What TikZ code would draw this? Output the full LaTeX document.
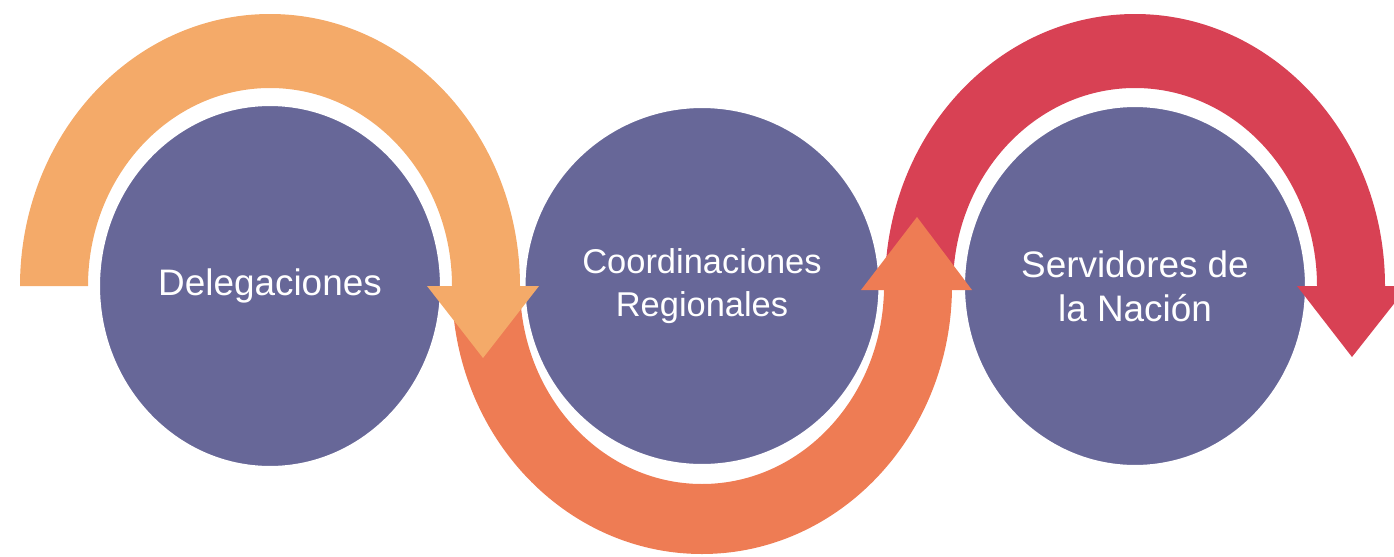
\documentclass[tikz,border=0pt]{standalone}
\usepackage{fontspec}
\setmainfont{Liberation Sans}
\usetikzlibrary{shapes.geometric}
\definecolor{peach}{HTML}{F4AA69}
\definecolor{coral}{HTML}{EE7C54}
\definecolor{crimson}{HTML}{D84154}
\definecolor{slate}{HTML}{676798}
\begin{document}
\begin{tikzpicture}[x=0.02cm,y=0.02cm,
        stage/.style={ellipse,fill=slate,draw=white,line width=0.1cm,inner sep=0pt,text=white,align=center},
        big/.style={font=\fontsize{21}{25}\selectfont},
        small/.style={font=\fontsize{19.6}{24.5}\selectfont}]
        \useasboundingbox (0,0) rectangle (1394,556);

        \coordinate (c1) at (270,270);
        \coordinate (c2) at (702,270);
        \coordinate (c3) at (1135,270);

        % bands
        \fill[crimson] (c3) ++(-250,0) arc[start angle=180,end angle=0,x radius=250,y radius=272] -- ++(-68,0) arc[start angle=0,end angle=180,x radius=182,y radius=198] -- cycle;
        \fill[coral] (c2) ++(-250,0) arc[start angle=180,end angle=360,x radius=250,y radius=268] -- ++(-68,0) arc[start angle=360,end angle=180,x radius=182,y radius=198] -- cycle;
        \fill[peach] (c1) ++(-250,0) arc[start angle=180,end angle=0,x radius=250,y radius=272] -- ++(-68,0) arc[start angle=0,end angle=180,x radius=182,y radius=198] -- cycle;

        \node[stage,big,minimum width=6.9cm,minimum height=7.3cm] (deleg) at (c1) {Delegaciones};
        \node[stage,small,minimum width=7.16cm,minimum height=7.22cm] (coord) at (c2) {Coordinaciones\\Regionales};
        \node[stage,big,minimum width=6.9cm,minimum height=7.26cm] (serv) at (c3) {Servidores de\\la Nación};

        % arrow heads
        \coordinate (tip1) at (483,198);
        \coordinate (tip2) at (917,339);
        \coordinate (tip3) at (1352,199);
        \fill[peach] (427,270) -- (539,270) -- (tip1) -- cycle;
        \fill[coral] (861,266) -- (972,266) -- (tip2) -- cycle;
        \fill[crimson] (1297,270) -- (1408,270) -- (tip3) -- cycle;
\end{tikzpicture}
\end{document}
